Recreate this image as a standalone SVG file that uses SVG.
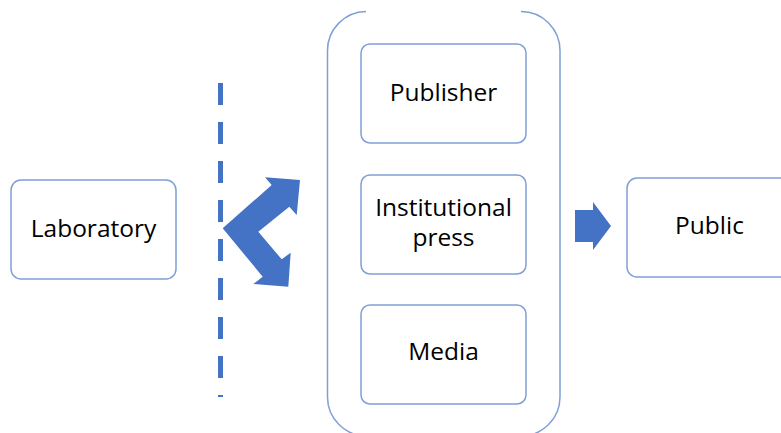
<svg xmlns="http://www.w3.org/2000/svg" width="781" height="433" viewBox="0 0 781 433">
<style>
.box{fill:#fff;stroke:#7f9fd6;stroke-width:1.5}
.lbl{font-family:"Open Sans","Noto Sans",sans-serif;font-size:24.5px;fill:#000;text-anchor:middle}
.arr{fill:#4472c4}
</style>
<rect width="781" height="433" fill="#fff"/>
<g id="container">
<path d="M366,11.5 A39,39 0 0 0 327.5,50.5 L327.5,397 A39,39 0 0 0 366.5,436 L521,436 A39,39 0 0 0 560,397 L560,50.5 A39,39 0 0 0 521,11.5" fill="none" stroke="#7f9fd6" stroke-width="1.5"/>
</g>
<g id="laboratory">
<rect class="box" x="11" y="180" width="165" height="99" rx="10"/>
<text class="lbl" x="93.5" y="237">Laboratory</text>
</g>
<g id="publisher">
<rect class="box" x="361" y="44" width="165" height="99" rx="9"/>
<text class="lbl" x="443.5" y="101">Publisher</text>
</g>
<g id="institutional">
<rect class="box" x="361" y="175" width="165" height="99" rx="9"/>
<text class="lbl" x="443.5" y="216">Institutional</text>
<text class="lbl" x="443.5" y="246">press</text>
</g>
<g id="media">
<rect class="box" x="361" y="305" width="165" height="99" rx="9"/>
<text class="lbl" x="443.5" y="360">Media</text>
</g>
<g id="public">
<rect class="box" x="627" y="178" width="165" height="99" rx="10"/>
<text class="lbl" x="709.5" y="234">Public</text>
</g>
<g id="connectors">
<line x1="220.5" y1="83" x2="220.5" y2="397" stroke="#4472c4" stroke-width="5" stroke-dasharray="22 17"/>
<polygon class="arr" points="222.7,228.3 271.7,185 265,177.3 300,180 296.7,215 289.3,206.7 258.3,231.7 281.7,259.3 290.7,252.7 288.3,286.7 253.3,284 262.7,276.7"/>
<polygon class="arr" points="575,210 593,210 593,202 611,226 593,250 593,242 575,242"/>
</g>
</svg>
